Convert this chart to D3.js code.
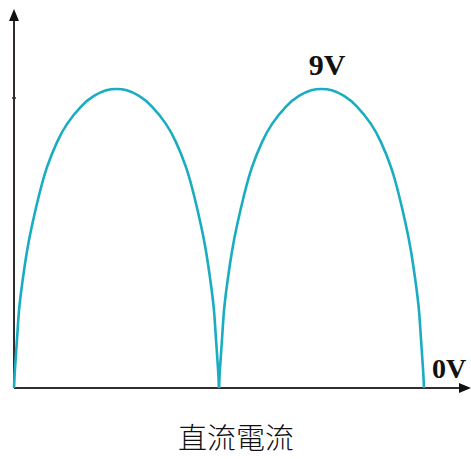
<!DOCTYPE html>
<html><head><meta charset="utf-8">
<script src="https://cdn.jsdelivr.net/npm/d3@7"></script>
<style>html,body{margin:0;padding:0;background:#fff;}svg{display:block;}</style>
</head><body>
<script>
// phase (half-cycles) and voltage readings for the full-wave rectified output
const phase = [0,0.005,0.015,0.024,0.039,0.063,0.088,0.122,0.161,0.210,0.259,0.327,0.390,0.450,0.500,0.550,0.610,0.673,0.741,0.790,0.839,0.878,0.912,0.937,0.961,0.976,0.985,0.995,1.0,
  1.005,1.015,1.024,1.039,1.063,1.088,1.122,1.161,1.210,1.259,1.327,1.390,1.450,1.500,1.550,1.610,1.673,1.741,1.790,1.839,1.878,1.912,1.937,1.961,1.976,1.985,1.995,2.0];
const volts = [0,0.6,1.5,2.3,3.1,4.1,4.9,5.8,6.65,7.4,7.95,8.47,8.79,8.96,9,8.96,8.79,8.47,7.95,7.4,6.65,5.8,4.9,4.1,3.1,2.3,1.5,0.6,0,
  0.6,1.5,2.3,3.1,4.1,4.9,5.8,6.65,7.4,7.95,8.47,8.79,8.96,9,8.96,8.79,8.47,7.95,7.4,6.65,5.8,4.9,4.1,3.1,2.3,1.5,0.6,0];
const peakLabel = "9V";
const zeroLabel = "0V";
const title = "直流電流";

const W = 471, H = 459;
const svg = d3.select("body").append("svg").attr("width", W).attr("height", H);

const x = d3.scaleLinear().domain([0, 2]).range([14, 424]);
const y = d3.scaleLinear().domain([0, 9]).range([388, 89]);

const axisColor = "#332c2c";

// y axis
svg.append("line").attr("x1", x(0)).attr("x2", x(0)).attr("y1", y(0)).attr("y2", 18)
  .attr("stroke", axisColor).attr("stroke-width", 2);
svg.append("path").attr("d", `M${x(0)},9 L${x(0)-5},21 L${x(0)+5},21 Z`).attr("fill", "#111");
svg.append("line").attr("x1", x(0)-2).attr("x2", x(0)+2).attr("y1", 98).attr("y2", 98)
  .attr("stroke", axisColor).attr("stroke-width", 1.5);

// x axis
svg.append("line").attr("x1", x(0)).attr("x2", 462).attr("y1", y(0)).attr("y2", y(0))
  .attr("stroke", axisColor).attr("stroke-width", 2);
svg.append("path").attr("d", `M471,${y(0)} L459,${y(0)-5} L459,${y(0)+5} Z`).attr("fill", "#111");

// curve: one path per half-cycle arch (cusp at each zero)
const pts = phase.map((p, i) => [p, volts[i]]);
const arches = [pts.filter(d => d[0] <= 1), pts.filter(d => d[0] >= 1)];
const line = d3.line().x(d => x(d[0])).y(d => y(d[1])).curve(d3.curveNatural);
svg.selectAll("path.arch").data(arches).join("path").attr("class", "arch")
  .attr("d", line).attr("fill", "none")
  .attr("stroke", "#1aadc2").attr("stroke-width", 2.6);

// labels
svg.append("text").attr("x", 327).attr("y", 75).attr("text-anchor", "middle")
  .attr("font-family", "Liberation Serif, serif").attr("font-weight", "bold").attr("font-size", 30)
  .attr("fill", "#111").text(peakLabel);
svg.append("text").attr("x", 432).attr("y", 378)
  .attr("font-family", "Liberation Serif, serif").attr("font-weight", "bold").attr("font-size", 28)
  .attr("fill", "#111").text(zeroLabel);
svg.append("text").attr("x", 236).attr("y", 449).attr("text-anchor", "middle")
  .attr("font-family", "Noto Sans CJK TC, sans-serif").attr("font-weight", 300).attr("font-size", 29)
  .attr("fill", "#111").text(title);
</script>
</body></html>
